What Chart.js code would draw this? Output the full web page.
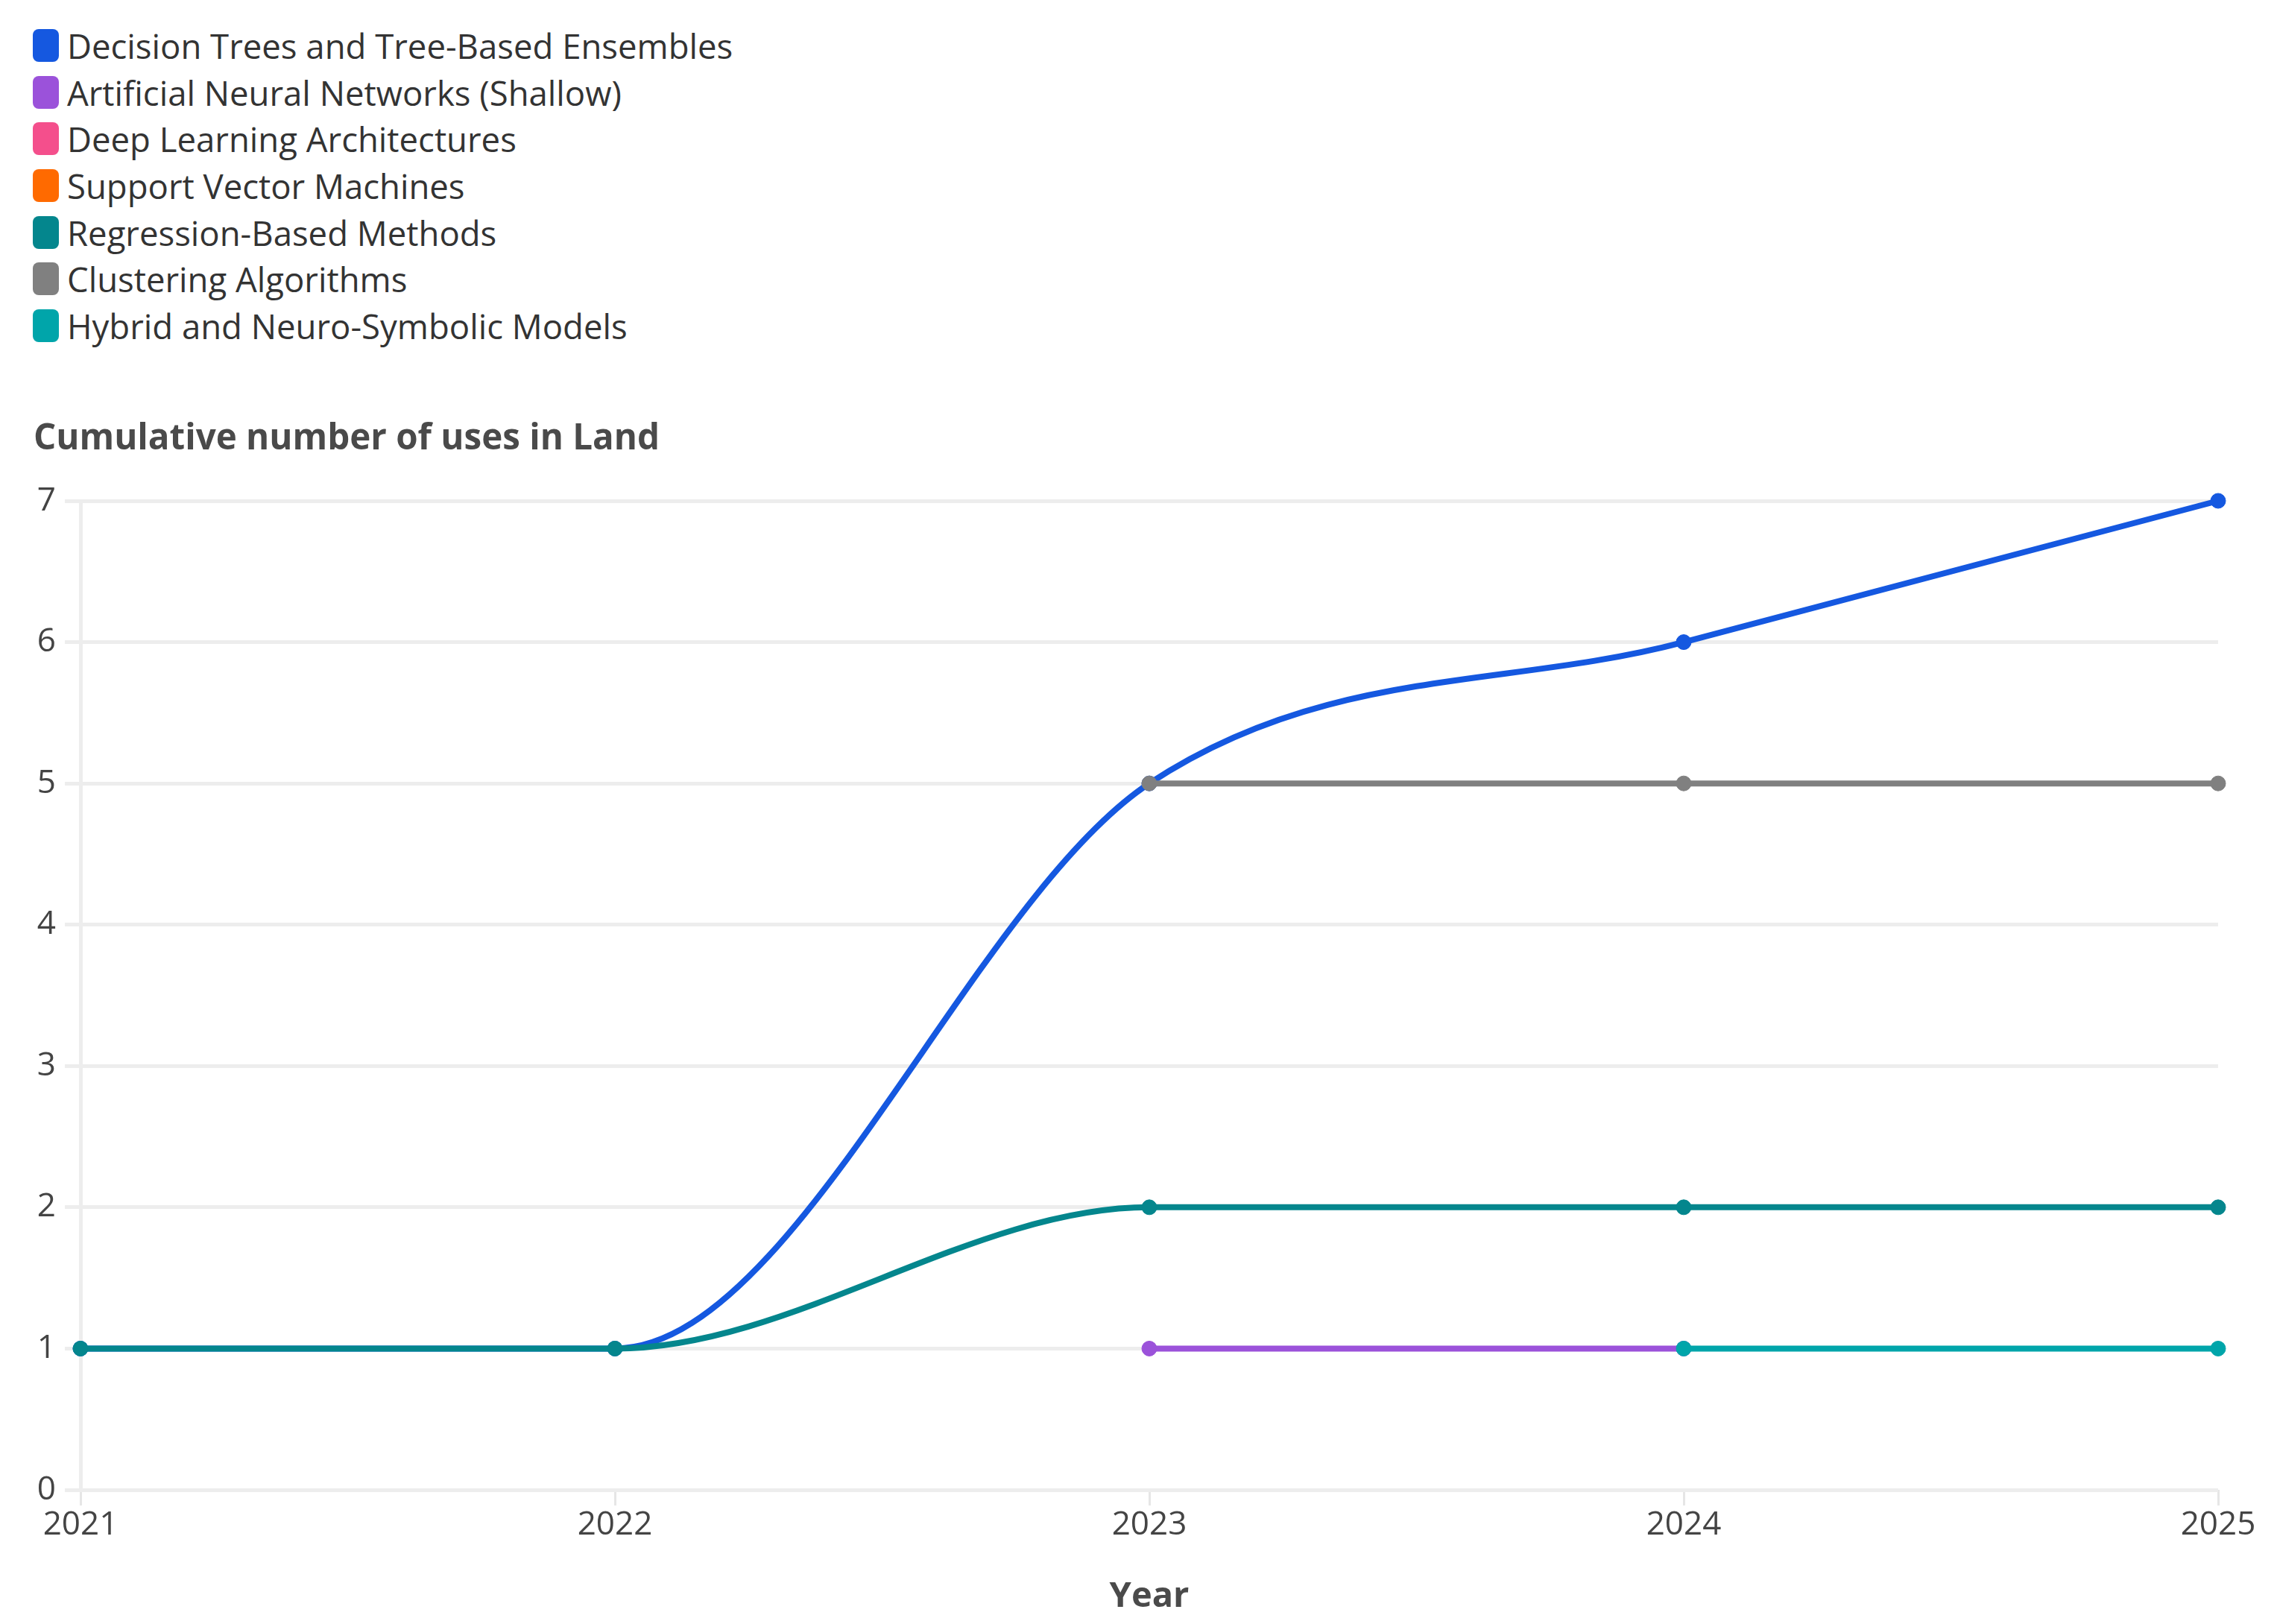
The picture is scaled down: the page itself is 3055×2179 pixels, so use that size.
<!DOCTYPE html>
<html>
<head>
<meta charset="utf-8">
<script src="https://cdn.jsdelivr.net/npm/chart.js@4/dist/chart.umd.min.js"></script>
<style>
  html, body { margin: 0; padding: 0; background: #ffffff; }
  body { width: 3055px; height: 2179px; position: relative; overflow: hidden; font-family: "Open Sans", sans-serif; }
  #legend { position: absolute; left: 44px; top: 30px; margin: 0; padding: 0; list-style: none; }
  #legend li { height: 62.6px; display: flex; align-items: center; color: #333333; font-size: 45.5px; white-space: nowrap; }
  #legend .sw { width: 35px; height: 44px; border-radius: 8px; margin-right: 11px; flex: none; }
  #wrap { position: absolute; left: 0; top: 0; width: 3055px; height: 2179px; }
</style>
</head>
<body>
<ul id="legend"></ul>
<div id="wrap"><canvas id="c" width="3055" height="2179"></canvas></div>
<script>
const years = ["2021", "2022", "2023", "2024", "2025"];
const seriesNames = [
  "Decision Trees and Tree-Based Ensembles",
  "Artificial Neural Networks (Shallow)",
  "Deep Learning Architectures",
  "Support Vector Machines",
  "Regression-Based Methods",
  "Clustering Algorithms",
  "Hybrid and Neuro-Symbolic Models"
];
const seriesColors = ["#1558e0", "#9b52da", "#f44f8c", "#ff6a00", "#04868d", "#808080", "#00a5aa"];
const decisionTrees = [1, 1, 5, 6, 7];
const annShallow    = [null, null, 1, 1, null];
const deepLearning  = [null, null, null, null, null];
const svm           = [null, null, null, null, null];
const regression    = [1, 1, 2, 2, 2];
const clustering    = [null, null, 5, 5, 5];
const hybrid        = [null, null, null, 1, 1];
const seriesValues = [decisionTrees, annShallow, deepLearning, svm, regression, clustering, hybrid];
const yTicks = [0, 1, 2, 3, 4, 5, 6, 7];
const yTitle = "Cumulative number of uses in Land";
const xTitle = "Year";

// HTML legend built from the series arrays
const legendEl = document.getElementById('legend');
seriesNames.forEach((name, i) => {
  const li = document.createElement('li');
  const sw = document.createElement('span');
  sw.className = 'sw';
  sw.style.background = seriesColors[i];
  li.appendChild(sw);
  li.appendChild(document.createTextNode(name));
  legendEl.appendChild(li);
});

const FONT = '"Open Sans", sans-serif';
const gridColor = '#ededed';

const datasets = seriesNames.map((name, i) => ({
  label: name,
  data: seriesValues[i],
  borderColor: seriesColors[i],
  backgroundColor: seriesColors[i],
  pointBackgroundColor: seriesColors[i],
  pointBorderColor: seriesColors[i],
  borderWidth: 8,
  pointRadius: 10,
  pointBorderWidth: 1,
  cubicInterpolationMode: 'monotone',
  spanGaps: false,
  fill: false,
  clip: false,
  order: seriesNames.length - i
}));

new Chart(document.getElementById('c'), {
  type: 'line',
  data: { labels: years, datasets },
  options: {
    responsive: false,
    animation: false,
    devicePixelRatio: 1,
    layout: { padding: { left: 45, right: 79, top: 0, bottom: 0 } },
    plugins: {
      legend: { display: false },
      tooltip: { enabled: false },
      title: {
        display: true,
        text: yTitle,
        align: 'start',
        color: '#4a4a4a',
        font: { family: FONT, size: 47.5, weight: 'bold' },
        padding: { top: 560.5, bottom: 54.5 }
      }
    },
    scales: {
      x: {
        type: 'category',
        offset: false,
        grid: { display: true, drawOnChartArea: false, drawTicks: true, tickLength: 21, color: '#e6e6e6', lineWidth: 3 },
        border: { display: false },
        ticks: { color: '#444444', font: { family: FONT, size: 44 }, padding: 0, maxRotation: 0, autoSkip: false },
        title: { display: true, text: xTitle, color: '#4a4a4a', font: { family: FONT, size: 47, weight: 'bold' }, padding: { top: 0, bottom: 8 } },
        afterFit(s) { s.height = 180; }
      },
      y: {
        min: 0, max: 7,
        afterBuildTicks(s) { s.ticks = yTicks.map(v => ({ value: v })); },
        grid: { color: gridColor, lineWidth: 5, tickLength: 21 },
        border: { display: true, color: gridColor, width: 5 },
        ticks: { color: '#444444', font: { family: FONT, size: 44 }, padding: 12 },
        afterFit(s) { s.width = 63; }
      }
    }
  }
});
</script>
</body>
</html>
